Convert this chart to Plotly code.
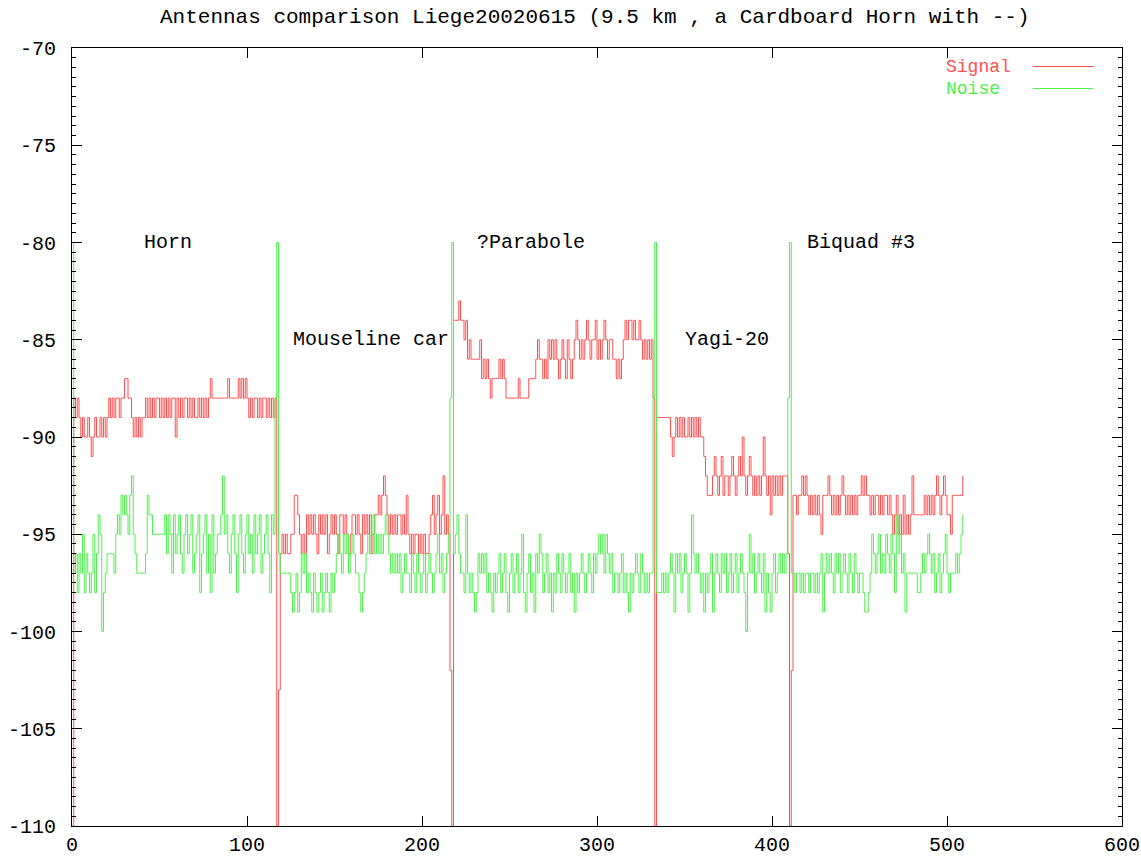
import plotly.graph_objects as go

# ---- data (dB readings, one sample per step) ----
signal_start = [-110]
signal_horn = [-88, -89, -88,
               -89, -90, -89, -90, -90, -89, -90,
               -91,
               -90, -89, -90, -90, -89, -90, -89, -90, -89,
               -88, -89, -88, -89, -88, -88, -89, -88, -88,
               -87, -87, -88,
               -88, -89, -90, -89,
               -90, -89, -90, -89, -89, -88,
               -89, -88, -89, -88, -89, -88, -88, -89, -88, -89, -88, -89, -88, -89, -88, -88,
               -90,
               -88, -89, -88, -89, -88, -88, -89, -88, -89, -88, -89, -89, -88, -89, -88, -89, -88, -89, -88,
               -87, -88, -88,
               -88, -88, -88, -88, -88, -88, -88,
               -87,
               -88, -88, -88, -88, -88,
               -87, -88, -87, -88, -87, -88, -89,
               -88, -89, -88, -88, -89, -88, -89, -88, -88, -89, -88, -89, -88, -89, -88]
signal_cut1 = [-110]
signal_mouseline = [-103,
                    -96, -95, -96, -95, -96, -96, -95, -95,
                    -93, -93, -94,
                    -95, -96, -95, -96, -94, -95,
                    -94, -95, -94, -95, -96, -94, -95, -94, -95, -94,
                    -96, -95, -94, -95, -94, -95, -96, -94, -94, -95,
                    -94, -95, -96, -95, -94, -94, -95, -94, -95, -96,
                    -94, -95, -94, -95, -94, -96, -95, -94,
                    -94, -93, -94, -93, -92, -93, -94,
                    -95, -94, -95, -94, -95, -94, -94, -95, -94, -95, -93,
                    -95, -96, -95, -96, -95, -95, -96, -95, -96, -95, -96, -96, -95, -94,
                    -93, -95, -94, -93, -95, -94, -92, -95, -94,
                    -95, -102]
signal_cut2 = [-110]
signal_parabole = [-84, -84, -84,
                   -83, -84,
                   -84, -85, -84,
                   -86, -85, -86,
                   -86, -86, -86, -86, -85,
                   -87, -86, -87, -86, -87,
                   -88, -87,
                   -87, -87, -87, -86, -87,
                   -86, -87, -88,
                   -88, -88, -88, -88, -88, -88, -87, -88, -88, -88, -88, -88,
                   -87, -87, -87, -87, -86,
                   -85, -86,
                   -86, -87, -86, -87,
                   -85, -86, -85, -86,
                   -85, -86, -87, -86, -85, -86, -87, -85, -86, -87, -86,
                   -85, -84, -85, -86, -85, -86, -85, -84, -85, -86, -85, -85, -84, -86, -85, -86,
                   -85, -84, -85, -86, -85, -85, -86,
                   -86, -87, -86, -87, -86, -85,
                   -84, -85, -84, -84, -85, -84, -85, -85, -84,
                   -85, -86, -85, -86, -85, -86, -85,
                   -88]
signal_cut3 = [-110]
signal_yagi = [-89, -89, -89, -89, -89, -89, -89, -89,
               -90, -91, -90, -89, -90, -89, -90, -89, -90, -90, -89, -90, -89, -90, -89, -90, -89, -90, -90,
               -91, -92,
               -93, -93, -93, -92,
               -91, -92, -93, -92, -91, -93, -92, -92, -93, -92, -91, -92, -93, -92, -91, -92,
               -90,
               -92, -93, -92, -91, -92, -93, -92, -93, -92, -93, -92,
               -90,
               -92, -93, -92, -94, -92, -93, -92, -93, -92, -93, -92, -92, -92,
               -96]
signal_cut4 = [-110]
signal_biquad = [-102,
                 -93, -93, -94, -93, -93,
                 -92, -93, -92,
                 -93, -94, -93, -94, -93, -94, -93, -94, -95,
                 -93, -93, -93,
                 -92, -93,
                 -94, -93, -94, -93, -94, -93, -92, -93, -94, -93, -94, -93, -94, -93, -94, -93, -93,
                 -92, -93, -92, -93,
                 -93, -94, -93, -94, -93, -93, -94, -93, -94, -93, -93, -94, -93,
                 -94, -95, -94, -93, -95, -94, -95, -93, -95, -94, -95, -94,
                 -92,
                 -94, -94, -94, -94, -94, -94, -93, -94, -93, -94,
                 -93, -94, -93, -92, -93, -94, -93, -92, -93, -94,
                 -94, -95,
                 -93, -93, -93, -93, -93, -93,
                 -92]

noise_start = [-80]
noise_horn = [-97, -96, -98, -96, -97, -95, -98, -96, -97,
              -98, -97, -95, -98, -96, -94, -95,
              -100,
              -98, -97, -96, -96, -96, -96, -97,
              -95, -94, -95, -93, -94,
              -93, -94, -95, -93, -92,
              -95, -96, -97, -97, -97, -97, -97, -96,
              -93, -94, -94,
              -95, -95, -95, -95, -95, -95, -95, -94,
              -96, -94, -95, -97, -94, -96, -95, -94, -96, -97,
              -95, -94, -96, -95, -94, -97, -96, -95, -94, -98,
              -96, -95, -94, -97, -95, -98, -94, -97, -96, -95,
              -95, -94,
              -92,
              -95, -94, -96, -97, -95, -94, -96, -98, -95, -94, -96, -97, -95,
              -94, -96, -95, -97, -94, -96, -95, -94, -97, -96, -95, -94, -96,
              -98,
              -94, -95,
              -88]
noise_spike1 = [-80]
noise_mouseline = [-96,
                   -97, -97, -97, -97, -97, -97,
                   -98, -99, -98, -97, -99, -98, -96, -97, -96, -98, -97,
                   -98, -99, -97, -98, -99, -98, -97, -99, -98, -97, -98, -99, -97, -98, -97,
                   -96, -95, -96, -97, -95, -96, -95, -97, -96, -95, -96, -97, -97,
                   -98, -99, -98, -97,
                   -96, -95, -96, -95, -94, -96, -95, -96, -95, -96, -95, -94, -95,
                   -96, -97, -96, -97, -96, -97, -96, -98, -97, -96, -97,
                   -97, -98, -96, -97, -98, -96, -97, -98, -97, -96, -98, -97,
                   -96, -97, -98, -97, -96, -95, -97, -96, -98, -97, -96,
                   -95,
                   -88]
noise_spike2 = [-80]
noise_parabole = [-96, -95, -94, -96, -97,
                  -97, -98, -94, -97, -98, -97,
                  -98, -99, -98, -96, -97, -96, -97, -96, -98, -97, -98, -99,
                  -97, -98, -97, -96, -98, -97, -96, -98, -99, -97,
                  -96, -98, -97, -96, -98, -97, -95, -98, -99, -97,
                  -96, -98, -97, -99, -96, -97, -95, -96, -98, -97,
                  -96, -98, -97, -99, -97, -98, -96, -97, -98, -96,
                  -97, -98, -97, -96, -98, -97, -99, -97, -98,
                  -97, -96, -97, -98, -97, -96, -97, -98, -96, -97, -96,
                  -95, -96, -95, -97, -95, -96, -97, -96, -98, -97,
                  -97, -98, -97, -96, -98, -97, -98, -99, -97, -98,
                  -97, -96, -97, -98, -96, -97, -98, -97, -98, -97,
                  -97,
                  -88]
noise_spike3 = [-80]
noise_yagi = [-98, -98, -98, -97, -98, -97, -98, -97,
              -96, -97, -99, -96, -97, -96, -98, -97, -96, -97, -99, -97,
              -94,
              -96, -97, -96, -97, -98, -97, -99, -97, -98, -97,
              -96, -99, -97, -96, -97, -98, -96, -97, -96, -98,
              -97, -96, -98, -97, -96, -98, -97, -96, -97, -98,
              -100,
              -97,
              -95,
              -97, -96, -98, -97, -96, -97, -98, -96, -99, -97, -98,
              -99, -97, -96, -98, -97, -96, -97, -96, -97, -96,
              -88]
noise_spike4 = [-80]
noise_biquad = [-97,
                -97, -98, -97, -97, -98, -97, -98, -97, -97, -98, -97, -97, -98, -97, -98, -97,
                -96, -99, -97, -96,
                -97, -96, -97, -98, -96, -97, -96, -98, -97, -96, -97, -98, -96, -97, -98, -96, -97, -98, -97,
                -97, -98, -99, -99, -98, -97,
                -95, -96, -97, -96, -95, -97, -96, -97, -95, -96, -97, -95, -96,
                -98,
                -94,
                -96, -95, -97, -96, -99,
                -97, -97, -97, -97, -97, -97, -98,
                -98, -97, -96, -97, -96, -95, -96,
                -97, -96, -98, -97, -96, -98, -97, -96, -95, -97,
                -98, -97, -97, -97, -96, -97, -96, -95, -94]

signal = (signal_start + signal_horn + signal_cut1 + signal_mouseline + signal_cut2 +
          signal_parabole + signal_cut3 + signal_yagi + signal_cut4 + signal_biquad)
noise = (noise_start + noise_horn + noise_spike1 + noise_mouseline + noise_spike2 +
         noise_parabole + noise_spike3 + noise_yagi + noise_spike4 + noise_biquad)
samples = list(range(len(signal)))

antenna_labels = ["Horn", "Mouseline car", "?Parabole", "Yagi-20", "Biquad #3"]
label_x = [40, 125, 230, 349, 419]
label_y = [-80, -85, -80, -85, -80]

x_ticks = [0, 100, 200, 300, 400, 500, 600]
x_tick_labels = ["0", "100", "200", "300", "400", "500", "600"]
y_ticks = [-110, -105, -100, -95, -90, -85, -80, -75, -70]
y_tick_labels = ["-110", "-105", "-100", "-95", "-90", "-85", "-80", "-75", "-70"]

title_text = "Antennas comparison Liege20020615 (9.5 km , a Cardboard Horn with --)"
series_names = ["Signal", "Noise"]
series_colors = ["#ff5050", "#50f050"]

FONT = "Liberation Mono"

fig = go.Figure()
fig.add_trace(go.Scatter(x=samples, y=signal, mode="lines", name=series_names[0],
                         line=dict(color=series_colors[0], width=1, shape="hv")))
fig.add_trace(go.Scatter(x=samples, y=noise, mode="lines", name=series_names[1],
                         line=dict(color=series_colors[1], width=1, shape="hv")))

for txt, lx, ly in zip(antenna_labels, label_x, label_y):
    fig.add_annotation(x=lx, y=ly, xref="x", yref="y", text=txt, showarrow=False,
                       xanchor="left", yanchor="middle",
                       font=dict(family=FONT, size=20, color="black"))

# gnuplot-style key (text then line sample)
key_y = [0.9762, 0.9479]
for name, col, ky in zip(series_names, series_colors, key_y):
    fig.add_annotation(x=0.8314, y=ky, xref="paper", yref="paper", text=name,
                       showarrow=False, xanchor="left", yanchor="middle", borderpad=0,
                       font=dict(family=FONT, size=18, color=col))
    fig.add_shape(type="line", xref="paper", yref="paper", x0=0.915, x1=0.973,
                  y0=ky, y1=ky, line=dict(color=col, width=1))

# title centred 18 px below the top of the figure
fig.add_annotation(x=0.498, y=1 + 30 / 778, xref="paper", yref="paper",
                   text=title_text, showarrow=False, xanchor="center", yanchor="middle",
                   borderpad=0, font=dict(family=FONT, size=21, color="black"))

axis_common = dict(showline=True, linecolor="black", linewidth=1, mirror="ticks",
                   ticks="inside", ticklen=10, tickcolor="black", tickwidth=1,
                   showgrid=False, zeroline=False, automargin=False,
                   tickfont=dict(family=FONT, size=20, color="black"))

fig.update_xaxes(range=[0, 600], tickvals=x_ticks, ticktext=x_tick_labels,
                 ticklabelstandoff=0, **axis_common)
fig.update_yaxes(range=[-110, -70], tickvals=y_ticks, ticktext=y_tick_labels,
                 ticklabelstandoff=11,
                 minor=dict(dtick=0.5, ticks="inside", ticklen=4, tickcolor="black"),
                 **axis_common)

fig.update_layout(
    width=1141, height=856,
    margin=dict(l=72, r=19, t=48, b=30, autoexpand=False),
    plot_bgcolor="white", paper_bgcolor="white",
    showlegend=False,
)

# remove the default page margin so the figure fills the window exactly; hide the modebar
fig.write_html("out.html",
               config={"displayModeBar": False},
               post_script="document.body.style.margin='0';document.body.style.overflow='hidden';")
